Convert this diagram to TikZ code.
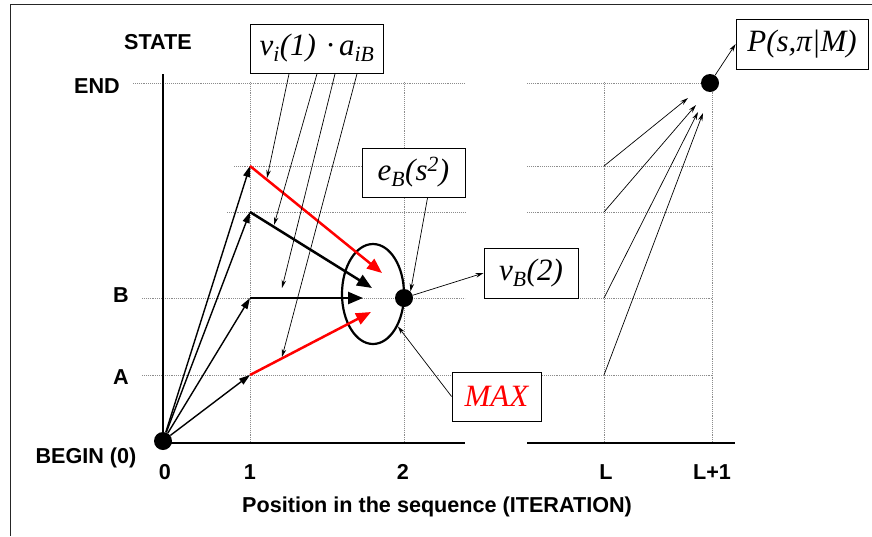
\documentclass[tikz,border=0pt]{standalone}
\usepackage{fontspec}
\setmainfont{Liberation Serif}
\newfontfamily\axisfamily{Liberation Sans}
\usetikzlibrary{calc,arrows.meta,shapes.geometric}
\newcommand\axisfont{\axisfamily\bfseries\fontsize{21.6}{26}\selectfont}
\newcommand\boxfont{\itshape\fontsize{31}{36}\selectfont}
\definecolor{gridGrey}{HTML}{8C8C8C}
\tikzset{
  grid line/.style={gridGrey, densely dotted, line width=0.9pt},
  axis line/.style={black, line width=1.8pt},
  axis label/.style={font=\axisfont, inner sep=0pt},
  value box/.style={draw, fill=white, line width=0.8pt, font=\boxfont,
    inner sep=0pt, minimum height=49pt},
  dot/.style={circle, fill=black, inner sep=0pt, minimum size=18pt},
  thin arrow/.style={-{Stealth[length=8pt, width=4.5pt]}, line width=0.7pt},
  path arrow/.style={-{Triangle[length=11pt, width=7pt]}, line width=1.4pt},
  best arrow/.style={-{Triangle[length=15pt, width=12pt]}, line width=2.5pt},
}

\begin{document}
\begin{tikzpicture}[x=1pt, y=-1pt]
\useasboundingbox (0,0) rectangle (872,536);

% Frame
\draw[black!85, line width=1pt] (10,536) -- (10,4) -- (872,4);

% Grid (two parts, gap between 2 and L)
\foreach \y/\xs in {83/133, 166/234, 212/227, 298/142, 375/142} {
  \draw[grid line] (\xs,\y) -- (465,\y);
  \draw[grid line] (527,\y) -- (712,\y);
}
\foreach \x in {250, 404, 604, 712}
  \draw[grid line] (\x,82) -- (\x,443);

% Axes
\draw[axis line] (163,74) -- (163,443) -- (465,443);
\draw[axis line] (527,443) -- (735,443);

% State and position labels
\node[axis label] (state) at (158,42) {STATE};
\node[axis label] (lEnd) at (97,86) {END};
\node[axis label] (lB) at (121,295) {B};
\node[axis label] (lA) at (121,377) {A};
\node[axis label] (lBegin) at (86,458) {BEGIN (0)};
\foreach \x/\t/\n in {165/0/t0, 250/1/t1, 403/2/t2, 606/L/tL, 712/L+1/tLL}
  \node[axis label] (\n) at (\x,472) {\t};
\node[axis label, anchor=base] (xlabel) at (437,512) {Position in the sequence (ITERATION)};

% Trellis vertices
\coordinate (A1) at (250,375);
\coordinate (B1) at (250,298);
\coordinate (C1) at (250,212);
\coordinate (D1) at (250,166);
\coordinate (AL) at (604,375);
\coordinate (BL) at (604,298);
\coordinate (CL) at (604,212);
\coordinate (DL) at (604,166);

% Candidates for state B at position 2
\node[draw, ellipse, line width=2.2pt, minimum width=62pt, minimum height=100pt] (maxset) at (373,294) {};

% Dots
\node[dot] (begin) at (163,441) {};
\node[dot] (B2) at (404,298) {};
\node[dot] (endpt) at (710,83) {};

% BEGIN -> position 1
\foreach \s in {A1, B1, C1, D1}
  \draw[path arrow] (begin) -- (\s);

% Position 1 -> B at position 2 (red = kept)
\coordinate (tD) at (382,273);
\coordinate (tC) at (372,288);
\coordinate (tB) at (363,298);
\coordinate (tA) at (371,312);
\draw[best arrow, red] (D1) -- (tD);
\draw[best arrow] (C1) -- (tC);
\draw[best arrow] (B1) -- (tB);
\draw[best arrow, red] (A1) -- (tA);

% Position L -> END
\coordinate (q1) at (688,98);
\coordinate (q2) at (696,105);
\coordinate (q3) at (698,112);
\coordinate (q4) at (703,113);
\foreach \s/\t in {DL/q1, CL/q2, BL/q3, AL/q4}
  \draw[thin arrow] (\s) -- (\t);

% Boxes
\node[value box, minimum width=133pt] (vbox) at (317,48.5)
  {v\textsubscript{i}(1)\,\,·\,a\textsubscript{iB}};
\node[value box, minimum width=103pt] (ebox) at (413.5,172.5)
  {e\textsubscript{B}(s\textsuperscript{2})};
\node[value box, minimum width=94pt, minimum height=50pt] (vBbox) at (531,273)
  {v\textsubscript{B}(2)};
\node[value box, minimum width=89pt, text=red] (maxbox) at (496.5,396.5) {MAX};
\node[value box, minimum width=132pt, minimum height=50pt] (pbox) at (802,44)
  {P(s,π|M)};

% Box pointers
\coordinate (p1) at (267,178);
\coordinate (p2) at (274,225);
\coordinate (p3) at (282,288);
\coordinate (p4) at (282,357);
\foreach \dx/\t in {39/p1, 67/p2, 85/p3, 107/p4}
  \draw[thin arrow] ([xshift=\dx pt]vbox.south west) -- (\t);
\draw[thin arrow] ([xshift=66pt]ebox.south west) -- (B2.45);
\draw[thin arrow] (B2) -- (vBbox.west);
\draw[thin arrow] (maxbox.west) -- (maxset);
\draw[thin arrow] (endpt) -- (pbox.west);

\end{tikzpicture}
\end{document}
